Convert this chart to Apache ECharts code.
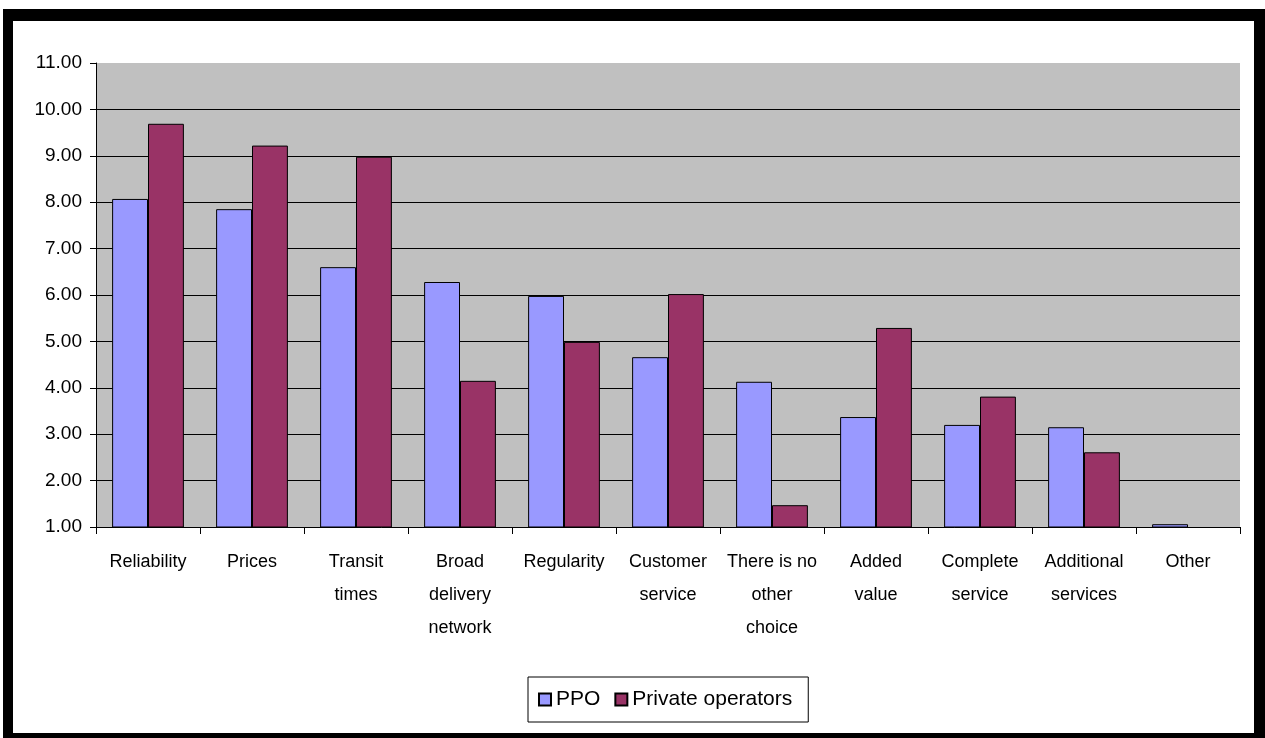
<!DOCTYPE html>
<html>
<head>
<meta charset="utf-8">
<script src="https://cdn.jsdelivr.net/npm/echarts@6/dist/echarts.min.js"></script>
<style>
  html, body { margin: 0; padding: 0; background: #fff; }
  #frame {
    position: absolute; left: 3px; top: 9px;
    border-style: solid; border-color: #000;
    border-width: 12px 11px 10px 10px;
  }
  #chart { width: 1241px; height: 712px; }
</style>
</head>
<body>
<div id="frame"><div id="chart"></div></div>
<script>
const categories = [
  "Reliability", "Prices", "Transit\ntimes", "Broad\ndelivery\nnetwork",
  "Regularity", "Customer\nservice", "There is no\nother\nchoice",
  "Added\nvalue", "Complete\nservice", "Additional\nservices", "Other"
];
const ppo = [8.07, 7.85, 6.60, 6.28, 5.98, 4.66, 4.13, 3.37, 3.20, 3.15, 1.06];
const privateOps = [9.69, 9.22, 8.98, 4.15, 4.99, 6.02, 1.47, 5.29, 3.81, 2.61, null];

const font = "Liberation Sans, Arial, sans-serif";
const chart = echarts.init(document.getElementById("chart"));

chart.setOption({
  animation: false,
  textStyle: { fontFamily: font, color: "#000" },
  grid: {
    left: 83, top: 42, width: 1144, height: 464,
    show: true, backgroundColor: "#C0C0C0", borderWidth: 0
  },
  legend: {
    left: 515, top: 656,
    padding: [12, 16, 12, 10],
    borderColor: "#000", borderWidth: 1,
    itemWidth: 12, itemHeight: 12, itemGap: 14,
    icon: "rect",
    textStyle: { fontFamily: font, fontSize: 21, color: "#000", padding: [0, 0, 0, 0] },
    data: ["PPO", "Private operators"]
  },
  xAxis: {
    type: "category",
    data: categories,
    axisLine: { lineStyle: { color: "#000", width: 1 } },
    axisTick: { show: true, length: 7, lineStyle: { color: "#000" } },
    axisLabel: {
      interval: 0, margin: 19, fontSize: 18, lineHeight: 33,
      color: "#000", fontFamily: font
    }
  },
  yAxis: {
    type: "value",
    min: 1, max: 11, interval: 1,
    axisLine: { show: true, lineStyle: { color: "#000", width: 1 } },
    axisTick: { show: true, length: 6, lineStyle: { color: "#000" } },
    axisLabel: {
      margin: 14, fontSize: 19, color: "#000", fontFamily: font,
      formatter: v => v.toFixed(2)
    },
    splitLine: { show: true, showMaxLine: false, showMinLine: false, lineStyle: { color: "#000", width: 1 } }
  },
  series: [
    {
      name: "PPO", type: "bar", data: ppo,
      barGap: "0%", barCategoryGap: "31%",
      itemStyle: { color: "#9999FF", borderColor: "#000", borderWidth: 1 }
    },
    {
      name: "Private operators", type: "bar", data: privateOps,
      itemStyle: { color: "#993366", borderColor: "#000", borderWidth: 1 }
    }
  ]
});
</script>
</body>
</html>
